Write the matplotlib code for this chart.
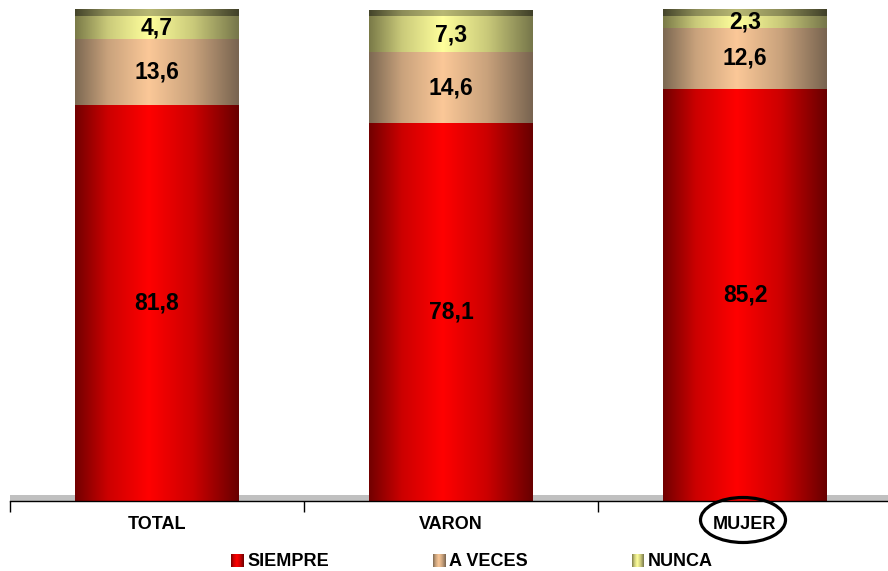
import matplotlib
matplotlib.use('Agg')
import matplotlib.pyplot as plt
import numpy as np
from matplotlib.colors import LinearSegmentedColormap
from matplotlib.patches import Ellipse

plt.rcParams['font.family'] = ['Liberation Sans', 'DejaVu Sans']

categories = ['TOTAL', 'VARON', 'MUJER']
series_names = ['SIEMPRE', 'A VECES', 'NUNCA']
siempre = [81.8, 78.1, 85.2]
a_veces = [13.6, 14.6, 12.6]
nunca = [4.7, 7.3, 2.3]


def cyl_cmap(name, edge_l, mid, center, edge_r):
    # dark edges, bright middle: fake cylinder shading
    return LinearSegmentedColormap.from_list(
        name, [(0.0, edge_l), (0.2, mid), (0.45, center), (0.72, mid), (1.0, edge_r)])


cmaps = [
    cyl_cmap('red', '#720000', '#cc0000', '#ff0000', '#680000'),
    cyl_cmap('tan', '#7c6852', '#c9a27c', '#fbc898', '#786450'),
    cyl_cmap('yel', '#7a7a48', '#caca7a', '#ffff9c', '#76764a'),
]
top_cmap = cyl_cmap('top', '#44442a', '#8c8c58', '#b8b874', '#404028')
grad = np.linspace(0, 1, 256).reshape(1, -1)


def shade(ax, x0, x1, y0, y1, cmap, z=2):
    ax.imshow(grad, cmap=cmap, extent=(x0, x1, y0, y1), aspect='auto',
              origin='lower', zorder=z, interpolation='bilinear')


fig = plt.figure(figsize=(8.88, 5.71), dpi=100)
ax = fig.add_axes([10 / 888, 70 / 571, 882 / 888, 501 / 571])

width = 0.555
depth = 1.3
x = np.arange(len(categories))

# grey 3D floor behind the bars
ax.axhspan(0, 1.24, color='#c0c0c0', zorder=0, lw=0)

for i in x:
    bottom = 0
    for vals, cm in zip([siempre, a_veces, nunca], cmaps):
        v = vals[i]
        shade(ax, i - width / 2, i + width / 2, bottom, bottom + v, cm)
        ax.text(i, bottom + v / 2, f'{v:.1f}'.replace('.', ','), ha='center', va='center',
                fontsize=16.5, fontweight='bold', color='black', zorder=5)
        bottom += v
    # top face of the 3D bar
    shade(ax, i - width / 2, i + width / 2, bottom, bottom + depth, top_cmap, z=1)

ax.set_xlim(-0.5, 2.5)
ax.set_ylim(0, 103.5)
for s in ['top', 'right', 'left']:
    ax.spines[s].set_visible(False)
ax.spines['bottom'].set_linewidth(1.0)
ax.set_yticks([])
ax.set_xticks([-0.5, 0.5, 1.5, 2.5])
ax.set_xticklabels([])
ax.tick_params(axis='x', which='major', length=8, width=1, direction='out')
ax.set_xticks(x, minor=True)
ax.set_xticklabels(categories, minor=True, fontsize=13, fontweight='bold')
ax.tick_params(axis='x', which='minor', length=0, pad=11)

# circle around MUJER
fig.patches.append(Ellipse((743 / 888, 1 - 520 / 571), 85 / 888, 45 / 571,
                           transform=fig.transFigure, fill=False, ec='black', lw=2.3))

# legend drawn by hand: small shaded swatches + labels
legend_x = [231, 433, 632]
for lx, name, cm in zip(legend_x, series_names, cmaps):
    sw = fig.add_axes([lx / 888, 4 / 571, 12 / 888, 13 / 571])
    sw.imshow(grad, cmap=cm, aspect='auto', interpolation='bilinear')
    sw.axis('off')
    fig.text((lx + 16) / 888, 4.5 / 571, name, fontsize=13, fontweight='bold',
             ha='left', va='baseline')

fig.savefig('out.png', dpi=100)
